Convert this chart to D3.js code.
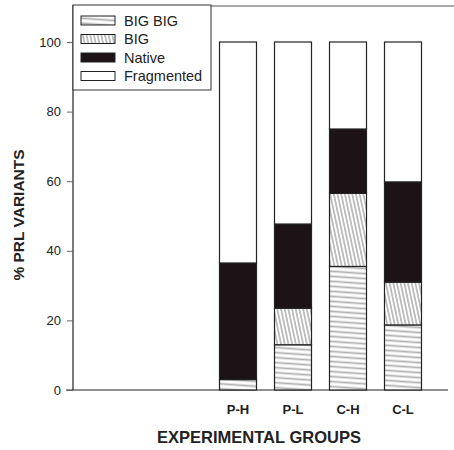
<!DOCTYPE html>
<html><head><meta charset="utf-8">
<script src="https://cdn.jsdelivr.net/npm/d3@7"></script>
<style>body{margin:0;background:#fff}svg{display:block}text{font-family:"Liberation Sans",Arial,sans-serif}</style>
</head><body>
<svg id="c" width="454" height="450"></svg>
<script>
const groups = ["P-H", "P-L", "C-H", "C-L"];
const slots = 3; // empty slots before first group
const bigBig = [3, 13, 35.5, 18.7];
const big = [0, 10.5, 21, 12.3];
const native = [33.5, 24.2, 18.5, 28.8];
const fragmented = [63.5, 52.3, 25, 40.2];
const seriesNames = ["BIG BIG", "BIG", "Native", "Fragmented"];
const yTicks = [0, 20, 40, 60, 80, 100];

const svg = d3.select("#c");
const defs = svg.append("defs");
function hatch(id, angle, spacing, color, sw) {
  const p = defs.append("pattern").attr("id", id).attr("patternUnits", "userSpaceOnUse")
    .attr("width", 20).attr("height", spacing).attr("patternTransform", `rotate(${angle})`);
  p.append("rect").attr("width", 20).attr("height", spacing).attr("fill", "#fff");
  p.append("line").attr("x1", -2).attr("y1", spacing / 2).attr("x2", 22).attr("y2", spacing / 2)
    .attr("stroke", color).attr("stroke-width", sw);
}
hatch("pbb", 4, 5, "#b0b0b0", 1.8);
hatch("pbig", 78, 3.6, "#a8a8a8", 1.4);
const fills = ["url(#pbb)", "url(#pbig)", "#1b1315", "#fff"];

const x = d3.scaleLinear().domain([0, 7]).range([73, 458]);
const y = d3.scaleLinear().domain([0, 100]).range([390, 42]);
const bw = 37;

const rows = groups.map((g, i) => ({ g, i, "BIG BIG": bigBig[i], "BIG": big[i], "Native": native[i], "Fragmented": fragmented[i] }));
const stack = d3.stack().keys(seriesNames)(rows);

// frame lines
svg.append("line").attr("x1", 211).attr("x2", 454).attr("y1", 6).attr("y2", 6).attr("stroke", "#555").attr("stroke-width", 1);
svg.append("line").attr("x1", 73).attr("x2", 73).attr("y1", 5).attr("y2", 390).attr("stroke", "#222").attr("stroke-width", 1.2);
svg.append("line").attr("x1", 66).attr("x2", 448).attr("y1", y(0)).attr("y2", y(0)).attr("stroke", "#222").attr("stroke-width", 1.2);

// y axis
const yAxis = svg.append("g").attr("transform", "translate(73,0)")
  .call(d3.axisLeft(y).tickValues(yTicks).tickSize(6).tickPadding(6));
yAxis.select(".domain").remove();
yAxis.selectAll("line").attr("stroke", "#666");
yAxis.selectAll("text").attr("font-size", 13).attr("fill", "#222");

// bars
stack.forEach((s, k) => {
  svg.append("g").selectAll("rect").data(s.filter(d => d[1] - d[0] > 0)).join("rect")
    .attr("x", d => x(d.data.i + slots) - bw / 2)
    .attr("width", bw)
    .attr("y", d => y(d[1]))
    .attr("height", d => y(d[0]) - y(d[1]))
    .attr("fill", fills[k])
    .attr("stroke", "#222").attr("stroke-width", 1.2);
});

// x labels
svg.append("g").selectAll("text").data(groups).join("text")
  .attr("x", (d, i) => x(i + slots)).attr("y", 414)
  .attr("text-anchor", "middle").attr("font-size", 13).attr("font-weight", "bold").attr("fill", "#222")
  .text(d => d);

// axis titles
svg.append("text").attr("x", 259).attr("y", 443).attr("text-anchor", "middle")
  .attr("font-size", 16.5).attr("font-weight", "bold").attr("fill", "#222").text("EXPERIMENTAL GROUPS");
svg.append("text").attr("transform", "translate(24,215) rotate(-90)").attr("text-anchor", "middle")
  .attr("font-size", 15.5).attr("font-weight", "bold").attr("fill", "#222").text("% PRL VARIANTS");

// legend
const lg = svg.append("g");
lg.append("rect").attr("x", 73).attr("y", 5).attr("width", 138).attr("height", 85)
  .attr("fill", "#fff").attr("stroke", "#333").attr("stroke-width", 1);
seriesNames.forEach((n, k) => {
  const yy = 16 + k * 18.5;
  lg.append("rect").attr("x", 81).attr("y", yy).attr("width", 34).attr("height", 9)
    .attr("fill", fills[k]).attr("stroke", "#222").attr("stroke-width", 1);
  lg.append("text").attr("x", 124).attr("y", yy + 9.5).attr("font-size", 14.5).attr("fill", "#222").text(n);
});
</script>
</body></html>
